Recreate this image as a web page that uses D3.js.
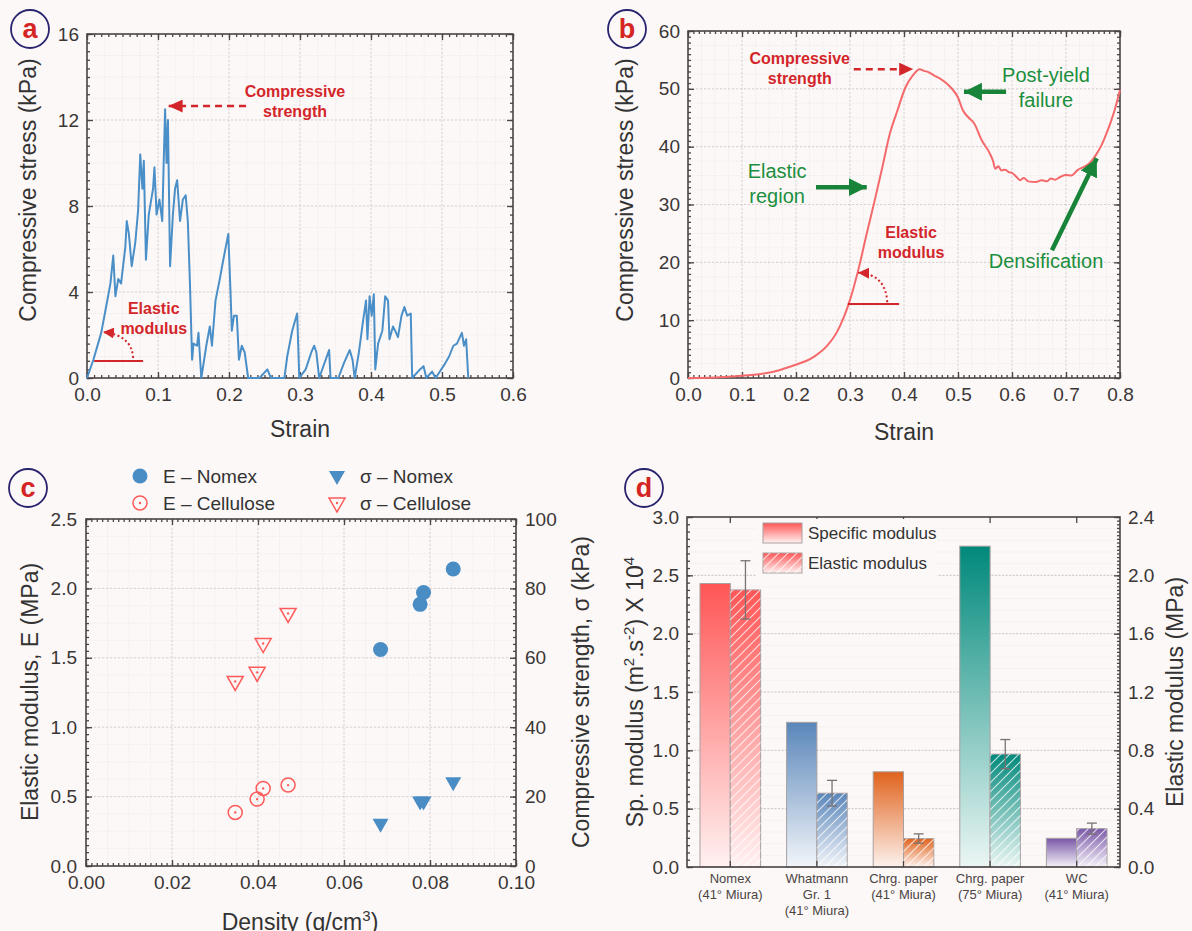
<!DOCTYPE html>
<html>
<head>
<meta charset="utf-8">
<script src="https://cdn.jsdelivr.net/npm/d3@7"></script>
<style>
body { margin: 0; background: #fcf8f7; }
text { font-family: "Liberation Sans", Arial, sans-serif; }
</style>
</head>
<body>
<svg id="fig" width="1192" height="931"></svg>
<script>
// panel a - Nomex honeycomb stress/strain
var strainA = [0, 0.009, 0.02, 0.028, 0.033, 0.037, 0.04, 0.044, 0.048, 0.054,
	0.056, 0.059, 0.063, 0.068, 0.072, 0.075, 0.078, 0.080, 0.083, 0.087,
	0.093, 0.095, 0.098, 0.102, 0.106, 0.108, 0.110, 0.112, 0.114, 0.117,
	0.121, 0.124, 0.127, 0.131, 0.135, 0.139, 0.142, 0.145, 0.148, 0.150,
	0.155, 0.157, 0.161, 0.168, 0.173, 0.176, 0.181, 0.187, 0.192, 0.199,
	0.202, 0.204, 0.207, 0.211, 0.214, 0.218, 0.222, 0.227, 0.243, 0.254,
	0.259, 0.278, 0.282, 0.289, 0.296, 0.299, 0.308, 0.316, 0.320, 0.323,
	0.327, 0.341, 0.343, 0.354, 0.362, 0.370, 0.374, 0.377, 0.383, 0.389,
	0.393, 0.395, 0.398, 0.401, 0.404, 0.406, 0.410, 0.416, 0.420, 0.424,
	0.426, 0.431, 0.434, 0.438, 0.443, 0.447, 0.451, 0.456, 0.458, 0.469,
	0.474, 0.478, 0.486, 0.491, 0.502, 0.510, 0.516, 0.521, 0.528, 0.531,
	0.534, 0.537];
var stressA = [0, 0.85, 2.1, 3.5, 4.4, 5.7, 3.8, 4.6, 4.4, 6.1,
	7.3, 6.7, 5.2, 6.3, 7.8, 10.4, 8.8, 10.1, 5.5, 7.6,
	8.8, 9.8, 7.6, 8.3, 7.3, 10.0, 12.5, 10.0, 12.0, 5.2,
	7.6, 8.8, 9.2, 7.3, 8.3, 8.5, 7.3, 4.4, 0.85, 1.6,
	1.5, 2.1, 0, 1.5, 2.4, 1.5, 3.6, 4.6, 5.5, 6.7,
	4.1, 2.2, 2.9, 2.9, 0.85, 1.5, 1.2, 0, 0, 0.4,
	0, 0, 1.0, 2.2, 3.0, 0, 0.4, 1.2, 1.5, 1.2,
	0, 1.3, 0, 0, 0.7, 1.3, 0.85, 0, 1.2, 2.7,
	3.6, 1.8, 3.8, 2.9, 3.9, 0.4, 1.6, 2.2, 3.8, 3.6,
	1.8, 2.4, 2.2, 1.9, 2.9, 3.3, 2.9, 3.0, 0, 0.4,
	0.55, 0, 0.3, 0, 0.55, 1.0, 1.5, 1.6, 2.1, 1.5,
	1.8, 0];

// panel b - cellulose stress/strain
var strainB = [0, 0.05, 0.1, 0.154, 0.19, 0.232, 0.257, 0.275, 0.289, 0.30,
	0.317, 0.331, 0.346, 0.36, 0.374, 0.388, 0.402, 0.417, 0.429, 0.437,
	0.445, 0.456, 0.466, 0.478, 0.488, 0.50, 0.509, 0.52, 0.53, 0.544,
	0.559, 0.565, 0.569, 0.575, 0.58, 0.587, 0.594, 0.601, 0.608, 0.615,
	0.622, 0.63, 0.644, 0.655, 0.665, 0.672, 0.68, 0.69, 0.70, 0.71,
	0.722, 0.733, 0.743, 0.757, 0.766, 0.775, 0.783, 0.79, 0.80];
var stressB = [0, 0.1, 0.4, 1.0, 2.0, 3.6, 5.5, 7.8, 10.6, 13.5,
	19.3, 25.0, 30.8, 36.5, 42.3, 46.3, 50.1, 52.4, 53.4, 53.1,
	52.9, 52.3, 51.8, 51.0, 50.1, 48.5, 46.3, 45.0, 44.0, 41.1,
	38.8, 37.5, 36.2, 36.6, 35.9, 36.0, 35.6, 35.4, 34.8, 34.2,
	34.6, 34.0, 33.9, 34.2, 34.0, 34.5, 34.3, 34.8, 35.1, 35.0,
	36.0, 36.5, 37.1, 38.8, 40.3, 42.3, 44.3, 46.3, 49.8];

// panel c - modulus / strength vs density
var densNomex = [0.0685, 0.0777, 0.0785, 0.0854];
var eNomex = [1.56, 1.885, 1.97, 2.14];
var sigNomex = [12.2, 18.6, 18.6, 24.1];
var densCell = [0.0347, 0.0398, 0.0412, 0.047];
var eCell = [0.386, 0.482, 0.559, 0.583];
var sigCell = [53.2, 55.8, 64.1, 72.8];

// panel d - specific / elastic modulus per material
var materials = [["Nomex", "(41° Miura)"], ["Whatmann", "Gr. 1", "(41° Miura)"],
	["Chrg. paper", "(41° Miura)"], ["Chrg. paper", "(75° Miura)"], ["WC", "(41° Miura)"]];
var specMod = [2.43, 1.24, 0.816, 2.75, 0.246];
var elasMod = [1.90, 0.506, 0.195, 0.774, 0.263];
var elasErr = [0.20, 0.088, 0.032, 0.10, 0.038];
var barColors = ["#ff5656", "#5a86ba", "#e0621c", "#00897b", "#7a58a8"];

var bg = "#fcf8f7";
var frameColor = "#4a4444";
var textColor = "#3a3636";
var annRed = "#d3262b";
var annGreen = "#1b8f3e";

var svg = d3.select("#fig");
svg.append("rect").attr("width", 1192).attr("height", 931).attr("fill", bg);

var defs = svg.append("defs");

function addMarker(id, color, len, wid) {
	defs.append("marker")
	.attr("id", id)
	.attr("markerUnits", "userSpaceOnUse")
	.attr("viewBox", "0 0 " + len + " " + wid)
	.attr("refX", len)
	.attr("refY", wid / 2)
	.attr("markerWidth", len)
	.attr("markerHeight", wid)
	.attr("orient", "auto")
	.append("path")
	.attr("d", "M0,0 L" + len + "," + (wid / 2) + " L0," + wid + " Z")
	.attr("fill", color);
}
addMarker("redHead", annRed, 14, 13);
addMarker("redSmall", annRed, 11, 11);
addMarker("greenHead", "#17843a", 18, 18);

function range(a, b, step) {
	var n = Math.round((b - a) / step);
	return d3.range(n + 1).map(function(i) { return +(a + i * step).toFixed(6); });
}

function styleAxis(sel, fs) {
	sel.attr("font-size", fs).attr("font-family", null);
	sel.select(".domain").remove();
	sel.selectAll("line").attr("stroke", frameColor).attr("stroke-width", 1.3);
	sel.selectAll("text").attr("fill", textColor);
}

function drawGrid(g, x, y, xs, ys, color, dash) {
	var xr = x.range(), yr = y.range();
	g.append("g").selectAll("line").data(xs).join("line")
	.attr("x1", function(d) { return x(d); }).attr("x2", function(d) { return x(d); })
	.attr("y1", yr[0]).attr("y2", yr[1])
	.attr("stroke", color).attr("stroke-dasharray", dash);
	g.append("g").selectAll("line").data(ys).join("line")
	.attr("y1", function(d) { return y(d); }).attr("y2", function(d) { return y(d); })
	.attr("x1", xr[0]).attr("x2", xr[1])
	.attr("stroke", color).attr("stroke-dasharray", dash);
}

function drawAxes(g, x, y, o) {
	var xr = x.range(), yr = y.range();
	var yR = o.y2 || y;
	g.append("g").attr("transform", "translate(0," + yr[0] + ")")
	.call(d3.axisBottom(x).tickValues(o.xMajor).tickFormat(o.xFmt).tickSize(-6).tickPadding(o.xPad))
	.call(styleAxis, o.fs);
	g.append("g").attr("transform", "translate(0," + yr[0] + ")")
	.call(d3.axisBottom(x).tickValues(o.xMinor).tickFormat("").tickSize(-3))
	.call(styleAxis, o.fs);
	g.append("g").attr("transform", "translate(0," + yr[1] + ")")
	.call(d3.axisTop(x).tickValues(o.xMajor).tickFormat("").tickSize(-6))
	.call(styleAxis, o.fs);
	g.append("g").attr("transform", "translate(0," + yr[1] + ")")
	.call(d3.axisTop(x).tickValues(o.xMinor).tickFormat("").tickSize(-3))
	.call(styleAxis, o.fs);
	g.append("g").attr("transform", "translate(" + xr[0] + ",0)")
	.call(d3.axisLeft(y).tickValues(o.yMajor).tickFormat(o.yFmt).tickSize(-6).tickPadding(o.yPad))
	.call(styleAxis, o.fs);
	g.append("g").attr("transform", "translate(" + xr[0] + ",0)")
	.call(d3.axisLeft(y).tickValues(o.yMinor).tickFormat("").tickSize(-3))
	.call(styleAxis, o.fs);
	g.append("g").attr("transform", "translate(" + xr[1] + ",0)")
	.call(d3.axisRight(yR).tickValues(o.y2 ? o.y2Major : o.yMajor).tickFormat(o.y2 ? o.y2Fmt : "").tickSize(-6).tickPadding(o.yPad))
	.call(styleAxis, o.fs);
	g.append("g").attr("transform", "translate(" + xr[1] + ",0)")
	.call(d3.axisRight(yR).tickValues(o.y2 ? o.y2Minor : o.yMinor).tickFormat("").tickSize(-3))
	.call(styleAxis, o.fs);
	// blank tick labels are not needed
	g.selectAll(".tick text").filter(function() { return this.textContent === ""; }).remove();
	g.append("rect")
	.attr("x", xr[0]).attr("y", yr[1])
	.attr("width", xr[1] - xr[0]).attr("height", yr[0] - yr[1])
	.attr("fill", "none").attr("stroke", frameColor).attr("stroke-width", 1.6);
}

function panelLabel(cx, cy, t) {
	svg.append("circle").attr("cx", cx).attr("cy", cy).attr("r", 19)
	.attr("fill", "none").attr("stroke", "#28246e").attr("stroke-width", 1.8);
	svg.append("text").attr("x", cx).attr("y", cy + 9).attr("text-anchor", "middle")
	.attr("font-size", 27).attr("font-weight", "bold").attr("fill", "#d42424").text(t);
}

function note(g, x, y, lines, color, size, weight) {
	var t = g.append("text").attr("text-anchor", "middle").attr("fill", color)
	.attr("font-size", size).attr("font-weight", weight);
	lines.forEach(function(s, i) {
		t.append("tspan").attr("x", x).attr("y", y + i * size * 1.25).text(s);
	});
}

function arrow(g, x1, y1, x2, y2, color, width, dash, head) {
	g.append("line").attr("x1", x1).attr("y1", y1).attr("x2", x2).attr("y2", y2)
	.attr("stroke", color).attr("stroke-width", width)
	.attr("stroke-dasharray", dash).attr("marker-end", "url(#" + head + ")");
}

function curvedArrow(g, x1, y1, cx, cy, x2, y2) {
	g.append("path").attr("d", "M" + x1 + "," + y1 + " Q" + cx + "," + cy + " " + x2 + "," + y2)
	.attr("fill", "none").attr("stroke", annRed).attr("stroke-width", 2)
	.attr("stroke-dasharray", "2,2.5").attr("marker-end", "url(#redSmall)");
}

// parts: plain strings, or ["sup", "2"] for a superscript
function addParts(t, parts, size) {
	var shift = 0;
	parts.forEach(function(p) {
		if (typeof p === "string") {
			t.append("tspan").attr("dy", -shift).attr("font-size", size).text(p);
			shift = 0;
		} else {
			t.append("tspan").attr("dy", -9).attr("font-size", 15).text(p[1]);
			shift = -9;
		}
	});
}

function yTitle(x, y, parts, size) {
	var t = svg.append("text").attr("transform", "translate(" + x + "," + y + ") rotate(-90)")
	.attr("text-anchor", "middle").attr("font-size", size).attr("fill", "#333");
	addParts(t, parts, size);
}

/* ---------- panel a ---------- */
var xa = d3.scaleLinear().domain([0, 0.6]).range([87, 513]);
var ya = d3.scaleLinear().domain([0, 16]).range([378, 34]);
var ga = svg.append("g");
drawGrid(ga, xa, ya, range(0, 0.6, 0.025), range(0, 16, 1), "#f1eaea", "1,1");
drawGrid(ga, xa, ya, range(0.1, 0.5, 0.1), range(4, 12, 4), "#d9d1d1", "2,2");
drawAxes(ga, xa, ya, {
	xMajor: range(0, 0.6, 0.1), xMinor: range(0, 0.6, 0.01), xFmt: d3.format(".1f"), xPad: 10,
	yMajor: range(0, 16, 4), yMinor: range(0, 16, 0.4), yFmt: d3.format("d"), yPad: 8, fs: 19
});
ga.append("path")
.datum(d3.range(strainA.length))
.attr("d", d3.line().x(function(i) { return xa(strainA[i]); }).y(function(i) { return ya(stressA[i]); }))
.attr("fill", "none").attr("stroke", "#4a8fc8").attr("stroke-width", 2).attr("stroke-linejoin", "round");

note(ga, xa(0.293), ya(13.07), ["Compressive", "strength"], annRed, 16, "bold");
arrow(ga, xa(0.224), ya(12.65), xa(0.115), ya(12.65), annRed, 2.5, "7,5", "redHead");
note(ga, xa(0.094), ya(2.98), ["Elastic", "modulus"], annRed, 16, "bold");
ga.append("line").attr("x1", xa(0.01)).attr("x2", xa(0.079)).attr("y1", ya(0.79)).attr("y2", ya(0.79))
.attr("stroke", annRed).attr("stroke-width", 2);
curvedArrow(ga, xa(0.065), ya(0.93), xa(0.063), ya(2.0), xa(0.0225), ya(2.14));

svg.append("text").attr("x", 300).attr("y", 437).attr("text-anchor", "middle")
.attr("font-size", 23).attr("fill", "#333").text("Strain");
yTitle(36, 190, ["Compressive stress (kPa)"], 23);
panelLabel(30, 29, "a");

/* ---------- panel b ---------- */
var xb = d3.scaleLinear().domain([0, 0.8]).range([688, 1120]);
var yb = d3.scaleLinear().domain([0, 60]).range([378, 31]);
var gb = svg.append("g");
drawGrid(gb, xb, yb, range(0, 0.8, 0.025), range(0, 60, 2.5), "#f1eaea", "1,1");
drawGrid(gb, xb, yb, range(0.1, 0.7, 0.1), range(10, 50, 10), "#d9d1d1", "2,2");
drawAxes(gb, xb, yb, {
	xMajor: range(0, 0.8, 0.1), xMinor: range(0, 0.8, 0.01), xFmt: d3.format(".1f"), xPad: 10,
	yMajor: range(0, 60, 10), yMinor: range(0, 60, 1), yFmt: d3.format("d"), yPad: 8, fs: 19
});
gb.append("path")
.datum(d3.range(strainB.length))
.attr("d", d3.line().curve(d3.curveMonotoneX).x(function(i) { return xb(strainB[i]); }).y(function(i) { return yb(stressB[i]); }))
.attr("fill", "none").attr("stroke", "#f4696b").attr("stroke-width", 2);

note(gb, xb(0.207), yb(54.3), ["Compressive", "strength"], annRed, 16, "bold");
arrow(gb, xb(0.307), yb(53.4), xb(0.417), yb(53.4), annRed, 2.5, "7,5", "redHead");
note(gb, xb(0.663), yb(51.2), ["Post-yield", "failure"], annGreen, 20, "normal");
arrow(gb, xb(0.589), yb(49.5), xb(0.511), yb(49.5), "#17843a", 4.5, null, "greenHead");
note(gb, xb(0.165), yb(34.6), ["Elastic", "region"], annGreen, 20, "normal");
arrow(gb, xb(0.237), yb(33.0), xb(0.331), yb(33.0), "#17843a", 4.5, null, "greenHead");
note(gb, xb(0.413), yb(24.2), ["Elastic", "modulus"], annRed, 16, "bold");
gb.append("line").attr("x1", xb(0.296)).attr("x2", xb(0.391)).attr("y1", yb(12.8)).attr("y2", yb(12.8))
.attr("stroke", annRed).attr("stroke-width", 2);
curvedArrow(gb, xb(0.369), yb(13.1), xb(0.366), yb(18.0), xb(0.315), yb(18.2));
note(gb, xb(0.663), yb(19.0), ["Densification"], annGreen, 20, "normal");
arrow(gb, xb(0.674), yb(22.1), xb(0.757), yb(38.0), "#17843a", 4.5, null, "greenHead");

svg.append("text").attr("x", 904).attr("y", 440).attr("text-anchor", "middle")
.attr("font-size", 23).attr("fill", "#333").text("Strain");
yTitle(633, 190, ["Compressive stress (kPa)"], 23);
panelLabel(627, 29, "b");

/* ---------- panel c ---------- */
var xc = d3.scaleLinear().domain([0, 0.1]).range([86, 516]);
var yc = d3.scaleLinear().domain([0, 2.5]).range([866, 519]);
var yc2 = d3.scaleLinear().domain([0, 100]).range([866, 519]);
var gc = svg.append("g");
drawGrid(gc, xc, yc, range(0, 0.1, 0.005), range(0, 2.5, 0.125), "#f1eaea", "1,1");
drawGrid(gc, xc, yc, range(0.02, 0.08, 0.02), range(0.5, 2.0, 0.5), "#d9d1d1", "2,2");
drawAxes(gc, xc, yc, {
	xMajor: range(0, 0.1, 0.02), xMinor: range(0, 0.1, 0.00125), xFmt: d3.format(".2f"), xPad: 10,
	yMajor: range(0, 2.5, 0.5), yMinor: range(0, 2.5, 0.05), yFmt: d3.format(".1f"), yPad: 9, fs: 19,
	y2: yc2, y2Major: range(0, 100, 20), y2Minor: range(0, 100, 2), y2Fmt: d3.format("d")
});

var blue = "#4a8cc4", red = "#ff5b5b";
function triPath(cx, cy) {
	return "M" + (cx - 8) + "," + (cy - 5) + " L" + (cx + 8) + "," + (cy - 5) + " L" + cx + "," + (cy + 9) + " Z";
}
function openCircle(g, cx, cy) {
	g.append("circle").attr("cx", cx).attr("cy", cy).attr("r", 7)
	.attr("fill", "none").attr("stroke", red).attr("stroke-width", 1.5);
	g.append("circle").attr("cx", cx).attr("cy", cy).attr("r", 1.2).attr("fill", red);
}
function openTri(g, cx, cy) {
	g.append("path").attr("d", triPath(cx, cy))
	.attr("fill", "none").attr("stroke", red).attr("stroke-width", 1.5);
	g.append("circle").attr("cx", cx).attr("cy", cy).attr("r", 1.2).attr("fill", red);
}
densNomex.forEach(function(d, i) {
	gc.append("circle").attr("cx", xc(d)).attr("cy", yc(eNomex[i])).attr("r", 7.5).attr("fill", blue);
	gc.append("path").attr("d", triPath(xc(d), yc2(sigNomex[i]))).attr("fill", blue);
});
densCell.forEach(function(d, i) {
	openCircle(gc, xc(d), yc(eCell[i]));
	openTri(gc, xc(d), yc2(sigCell[i]));
});

// legend c
var lg = svg.append("g");
lg.append("circle").attr("cx", 140).attr("cy", 476).attr("r", 7.5).attr("fill", blue);
openCircle(lg, 140, 503);
lg.append("path").attr("d", triPath(337, 476)).attr("fill", blue);
openTri(lg, 337, 503);
[["E \u2013 Nomex", 163, 483], ["E \u2013 Cellulose", 163, 510],
 ["\u03c3 \u2013 Nomex", 360, 483], ["\u03c3 \u2013 Cellulose", 360, 510]].forEach(function(e) {
	lg.append("text").attr("x", e[1]).attr("y", e[2]).attr("font-size", 19).attr("fill", "#333").text(e[0]);
});

var dt = svg.append("text").attr("x", 300).attr("y", 930).attr("text-anchor", "middle")
.attr("font-size", 23).attr("fill", "#333");
addParts(dt, ["Density (g/cm", ["sup", "3"], ")"], 23);
yTitle(38, 692, ["Elastic modulus, E (MPa)"], 23);
yTitle(589, 692, ["Compressive strength, \u03c3 (kPa)"], 23);
panelLabel(28, 488, "c");

/* ---------- panel d ---------- */
var xd = d3.scaleBand().domain(d3.range(materials.length)).range([687, 1120]).paddingInner(0.3).paddingOuter(0.15);
var yd = d3.scaleLinear().domain([0, 3]).range([867, 517]);
var yd2 = d3.scaleLinear().domain([0, 2.4]).range([867, 517]);
var xdLin = d3.scaleLinear().range([687, 1120]);
var gd = svg.append("g");
drawGrid(gd, xdLin, yd, [], range(0, 3, 0.1), "#f1eaea", "1,1");
drawGrid(gd, xdLin, yd, [], range(0.5, 2.5, 0.5), "#cfc7c7", "2,1.5");

barColors.forEach(function(c, i) {
	var gr = defs.append("linearGradient").attr("id", "grad" + i)
	.attr("x1", 0).attr("y1", 0).attr("x2", 0).attr("y2", 1);
	gr.append("stop").attr("offset", "0%").attr("stop-color", c);
	gr.append("stop").attr("offset", "100%").attr("stop-color", d3.interpolateRgb(c, "#ffffff")(0.92));
});
defs.append("pattern").attr("id", "hatch").attr("patternUnits", "userSpaceOnUse")
.attr("width", 9).attr("height", 9)
.append("path").attr("d", "M-1,1 l2,-2 M0,9 l9,-9 M8,10 l2,-2")
.attr("stroke", "#fff").attr("stroke-opacity", 0.75).attr("stroke-width", 1.1);

var bw = xd.bandwidth() / 2;
var bars = gd.selectAll(".grp").data(d3.range(materials.length)).join("g");
bars.append("rect")
.attr("x", function(i) { return xd(i); }).attr("width", bw)
.attr("y", function(i) { return yd(specMod[i]); })
.attr("height", function(i) { return yd(0) - yd(specMod[i]); })
.attr("fill", function(i) { return "url(#grad" + i + ")"; })
.attr("stroke", "#a8a0a0").attr("stroke-width", 1);
bars.append("rect")
.attr("x", function(i) { return xd(i) + bw; }).attr("width", bw)
.attr("y", function(i) { return yd2(elasMod[i]); })
.attr("height", function(i) { return yd2(0) - yd2(elasMod[i]); })
.attr("fill", function(i) { return "url(#grad" + i + ")"; })
.attr("stroke", "#a8a0a0").attr("stroke-width", 1);
bars.append("rect")
.attr("x", function(i) { return xd(i) + bw; }).attr("width", bw)
.attr("y", function(i) { return yd2(elasMod[i]); })
.attr("height", function(i) { return yd2(0) - yd2(elasMod[i]); })
.attr("fill", "url(#hatch)");
// error bars
bars.append("line")
.attr("x1", function(i) { return xd(i) + 1.5 * bw; }).attr("x2", function(i) { return xd(i) + 1.5 * bw; })
.attr("y1", function(i) { return yd2(elasMod[i] - elasErr[i]); })
.attr("y2", function(i) { return yd2(elasMod[i] + elasErr[i]); })
.attr("stroke", "#7a7272").attr("stroke-width", 1.3);
[-1, 1].forEach(function(s) {
	bars.append("line")
	.attr("x1", function(i) { return xd(i) + 1.5 * bw - 5; }).attr("x2", function(i) { return xd(i) + 1.5 * bw + 5; })
	.attr("y1", function(i) { return yd2(elasMod[i] + s * elasErr[i]); })
	.attr("y2", function(i) { return yd2(elasMod[i] + s * elasErr[i]); })
	.attr("stroke", "#7a7272").attr("stroke-width", 1.3);
});

drawAxes(gd, xd, yd, {
	xMajor: d3.range(materials.length), xMinor: [], xFmt: "", xPad: 8,
	yMajor: range(0, 3, 0.5), yMinor: range(0, 3, 0.0625), yFmt: d3.format(".1f"), yPad: 8, fs: 19,
	y2: yd2, y2Major: range(0, 2.4, 0.4), y2Minor: range(0, 2.4, 0.025), y2Fmt: d3.format(".1f")
});

// category labels
materials.forEach(function(m, i) {
	var t = gd.append("text").attr("text-anchor", "middle").attr("font-size", 13).attr("fill", "#4a4444");
	m.forEach(function(s, k) {
		t.append("tspan").attr("x", xd(i) + xd.bandwidth() / 2).attr("y", 883 + k * 16).text(s);
	});
});

// legend d
var ld = svg.append("g");
ld.append("rect").attr("x", 757).attr("y", 519).attr("width", 180).attr("height", 60).attr("fill", bg);
ld.append("rect").attr("x", 763).attr("y", 523).attr("width", 39).attr("height", 20)
.attr("fill", "url(#grad0)").attr("stroke", "#a8a0a0");
ld.append("rect").attr("x", 763).attr("y", 553).attr("width", 39).attr("height", 20)
.attr("fill", "url(#grad0)").attr("stroke", "#a8a0a0");
ld.append("rect").attr("x", 763).attr("y", 553).attr("width", 39).attr("height", 20)
.attr("fill", "url(#hatch)");
ld.append("text").attr("x", 808).attr("y", 539).attr("font-size", 17).attr("fill", "#333").text("Specific modulus");
ld.append("text").attr("x", 808).attr("y", 569).attr("font-size", 17).attr("fill", "#333").text("Elastic modulus");

yTitle(643, 692, ["Sp. modulus (m", ["sup", "2"], ".s", ["sup", "-2"], ") X 10", ["sup", "4"]], 23);
yTitle(1183, 692, ["Elastic modulus (MPa)"], 23);
panelLabel(644, 488, "d");
</script>
</body>
</html>
